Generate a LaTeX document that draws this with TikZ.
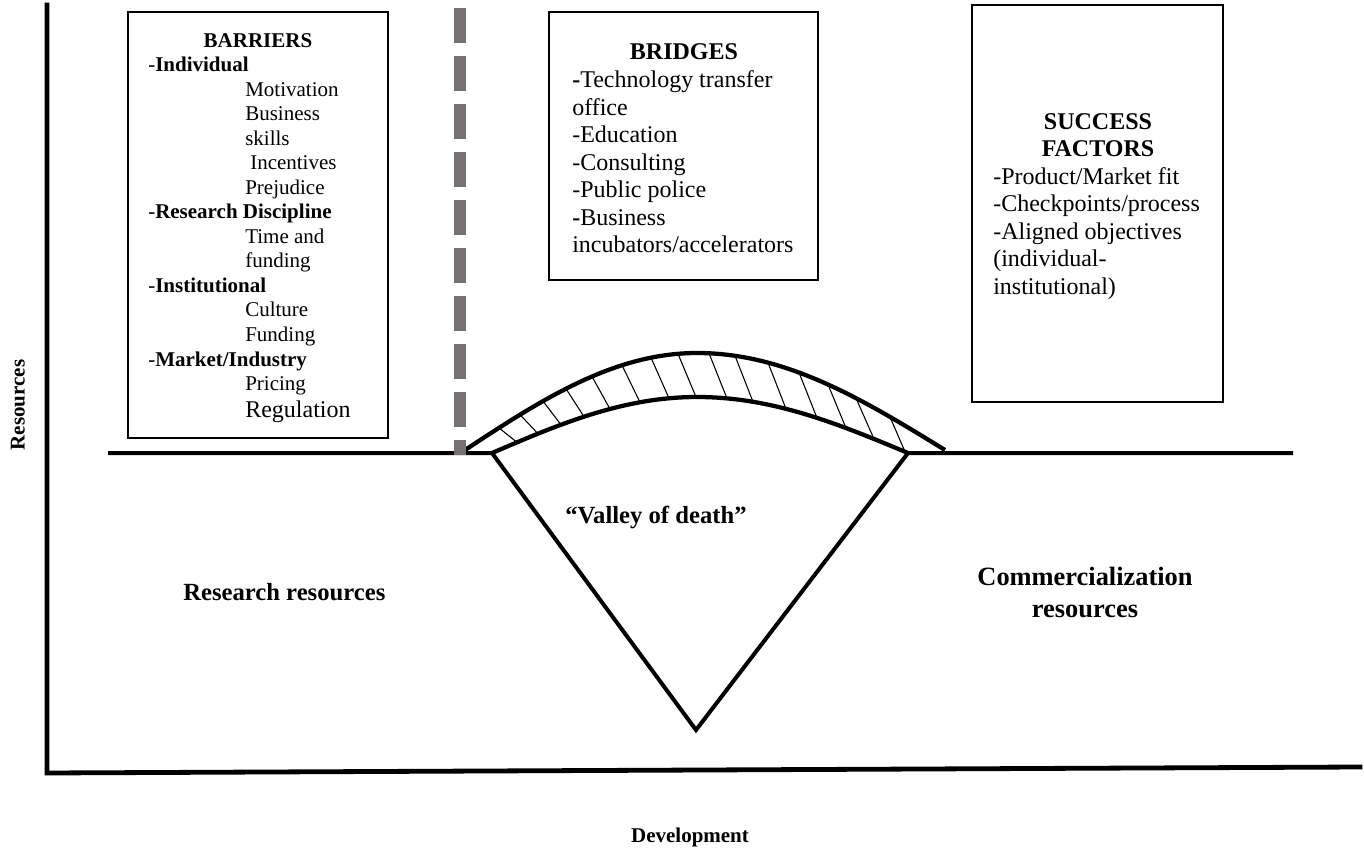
\documentclass[tikz,border=0pt]{standalone}
\usepackage{fontspec}
\setmainfont{Liberation Serif}
\definecolor{dashgray}{RGB}{118,113,113}
\begin{document}
\begin{tikzpicture}[x=0.75pt,y=-0.75pt,
  bt/.style={font=\fontsize{15.75}{18}\selectfont, anchor=base west, inner sep=0pt},
  btc/.style={font=\fontsize{15.75}{18}\selectfont\bfseries, anchor=base, inner sep=0pt},
  lt/.style={font=\fontsize{18}{21}\selectfont, anchor=base west, inner sep=0pt},
  ltc/.style={font=\fontsize{18}{21}\selectfont\bfseries, anchor=base, inner sep=0pt},
  big/.style={font=\fontsize{18.5}{22}\selectfont\bfseries, inner sep=0pt},
  axislbl/.style={font=\fontsize{15.75}{18}\selectfont\bfseries, inner sep=0pt},
  boxline/.style={draw=black, line width=2pt},
  axis/.style={line width=3.6pt, line cap=rect},
  ground/.style={line width=3pt, line join=miter},
  curve/.style={line width=3.2pt},
  hatch/.style={line width=0.8pt},
  gdash/.style={draw=dashgray, line width=9pt, dash pattern=on 26.25pt off 9.75pt},
  declare function={
    outery(\x) = (\x<697) ? 450-97*sin((\x-465)/232*90) : 450-97*sin((945-\x)/248*90);
    innery(\x) = (\x<697) ? 453-56*sin((\x-492)/205*90) : 453-56*sin((908-\x)/211*90);
  }]
\useasboundingbox (0,0) rectangle (1364,852);

% axes
\coordinate (ytop) at (47,5);
\coordinate (orig) at (47,773);
\coordinate (xend) at (1360,767);
\draw[axis] (ytop) -- (orig) -- (xend);
\node[axislbl, rotate=90] (reslbl) at (18,405) {Resources};
\node[axislbl, anchor=base] (devlbl) at (690,842) {Development};

% ground line with valley
\coordinate (gl) at (108,453);
\coordinate (vl) at (492,453);
\coordinate (vb) at (696,730);
\coordinate (vr) at (908,453);
\coordinate (gr) at (1293,453);
\draw[ground] (gl) -- (vl) -- (vb) -- (vr) -- (gr);

% bridge
\draw[curve] plot[domain=465:945, samples=120, variable=\t] (\t,{outery(\t)});
\draw[curve] plot[domain=492:908, samples=120, variable=\t] (\t,{innery(\t)});
\foreach \xo in {499,520,543,566,592,622,651,678,709,735,768,799,828,856,890}{
  \pgfmathsetmacro\xi{min(\xo+18,905)}
  \draw[hatch] (\xo,{outery(\xo)}) -- (\xi,{innery(\xi)});
}

% dashed separator
\coordinate (dtop) at (459.5,8);
\coordinate (dbot) at (459.5,455);
\draw[gdash] (dtop) -- (dbot);

% boxes
\draw[boxline] (128,12) rectangle (388,438);
\draw[boxline] (549,12) rectangle (818,280);
\draw[boxline] (972,5) rectangle (1223,402);

% barriers text
\node[btc] (b0) at (258,47.5) {BARRIERS};
\node[bt] (b1) at (148,72) {-\textbf{Individual}};
\node[bt] (b2) at (245,96.5) {Motivation};
\node[bt] (b3) at (245,121) {Business};
\node[bt] (b4) at (245,145.5) {skills};
\node[bt] (b5) at (250,170) {Incentives};
\node[bt] (b6) at (245,194.5) {Prejudice};
\node[bt] (b7) at (148,219) {-\textbf{Research Discipline}};
\node[bt] (b8) at (245,243.5) {Time and};
\node[bt] (b9) at (245,268) {funding};
\node[bt] (b10) at (148,292.5) {-\textbf{Institutional}};
\node[bt] (b11) at (245,317) {Culture};
\node[bt] (b12) at (245,341.5) {Funding};
\node[bt] (b13) at (148,366) {-\textbf{Market/Industry}};
\node[bt] (b14) at (245,390) {Pricing};
\node[lt] (b15) at (245,417) {Regulation};

% bridges text
\node[ltc] (r0) at (684,60) {BRIDGES};
\node[lt] (r1) at (572,88) {\textbf{-}Technology transfer};
\node[lt] (r2) at (572,115.5) {office};
\node[lt] (r3) at (572,143) {-Education};
\node[lt] (r4) at (572,170.5) {-Consulting};
\node[lt] (r5) at (572,198) {-Public police};
\node[lt] (r6) at (572,225.5) {\textbf{-}Business};
\node[lt] (r7) at (572,253) {incubators/accelerators};

% success text
\node[ltc] (s0) at (1098,130) {SUCCESS};
\node[ltc] (s1) at (1098,157) {FACTORS};
\node[lt] (s2) at (993,185) {-Product/Market fit};
\node[lt] (s3) at (993,212) {-Checkpoints/process};
\node[lt] (s4) at (993,240) {-Aligned objectives};
\node[lt] (s5) at (993,267) {(individual-};
\node[lt] (s6) at (993,295) {institutional)};

% region labels
\node[big, anchor=base west] (rr) at (183,600) {Research resources};
\node[big, anchor=base west] (vd) at (565,523) {``Valley of death''};
\node[big, anchor=base, font=\fontsize{19.8}{23}\selectfont\bfseries] (cr1) at (1085,585) {Commercialization};
\node[big, anchor=base, font=\fontsize{19.8}{23}\selectfont\bfseries] (cr2) at (1085,617) {resources};
\end{tikzpicture}
\end{document}
